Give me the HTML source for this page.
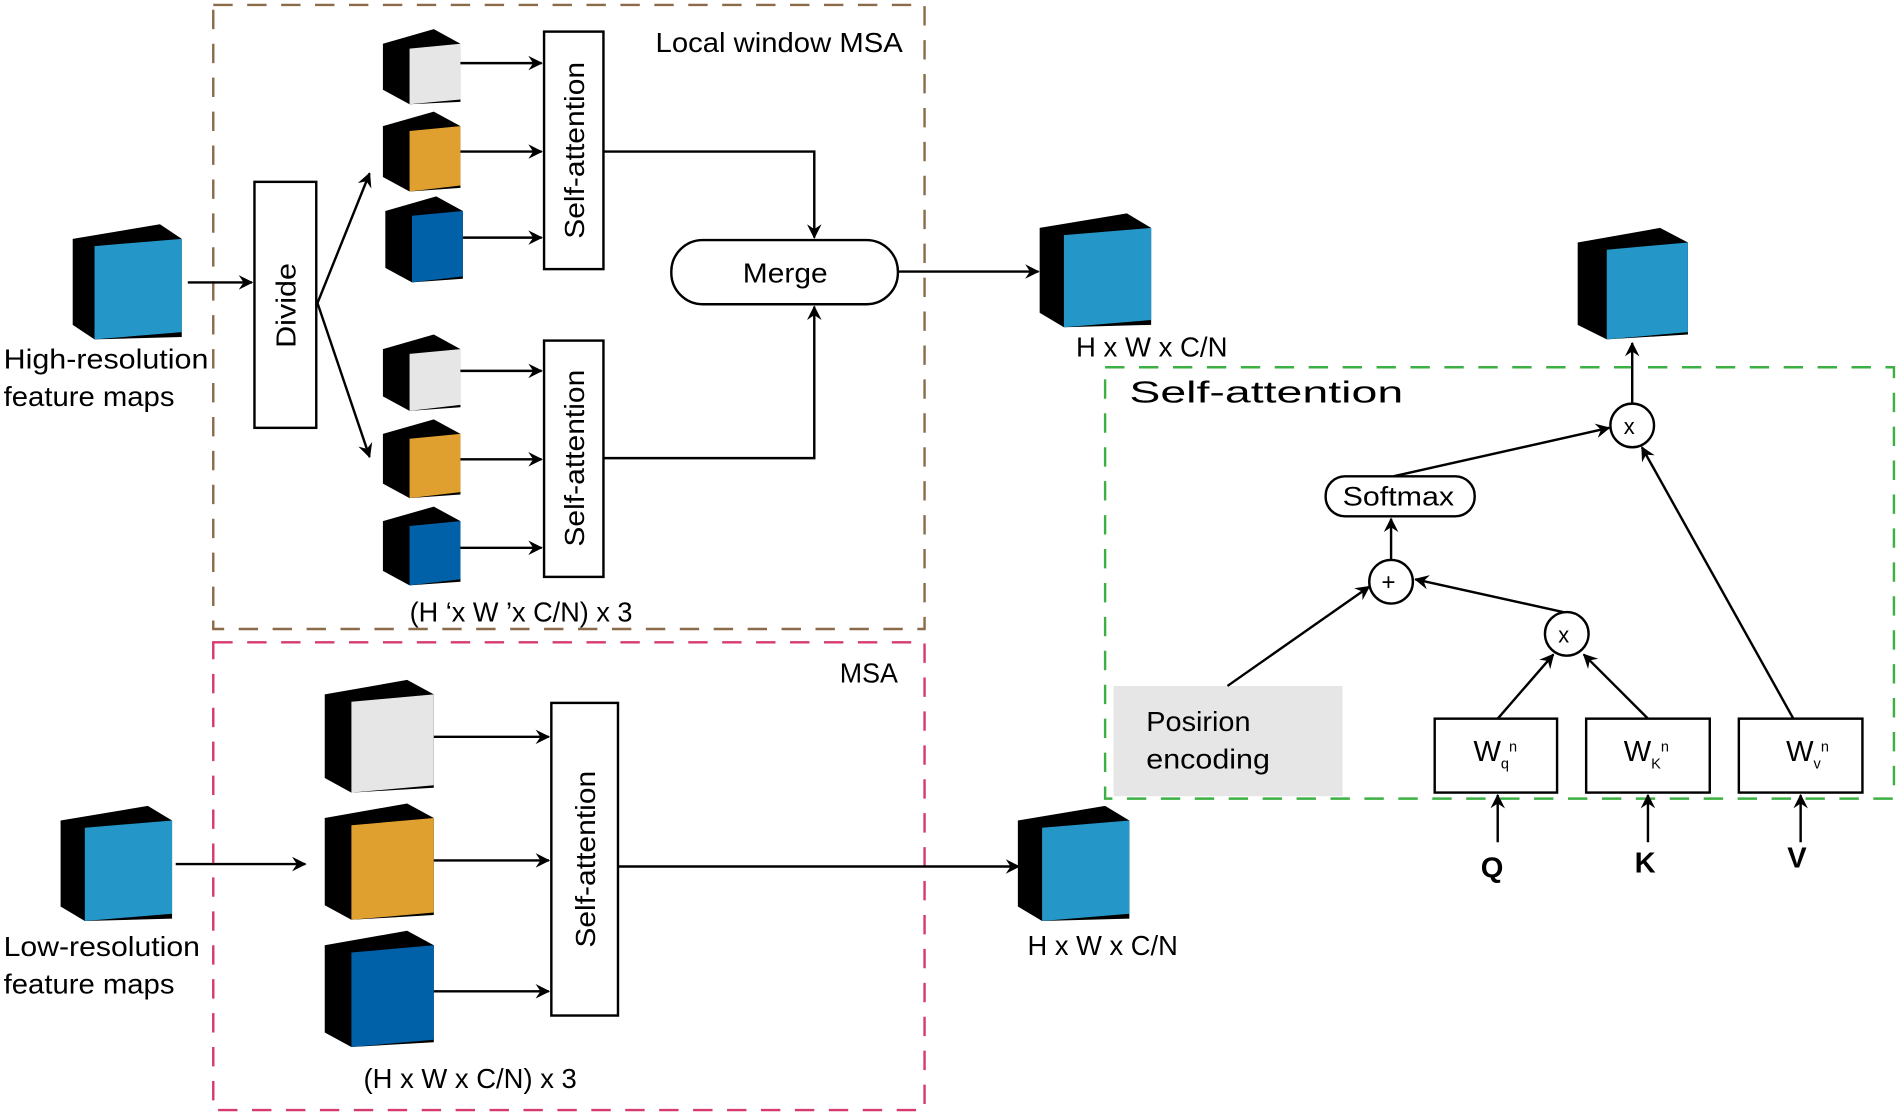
<!DOCTYPE html>
<html><head><meta charset="utf-8"><style>html,body{margin:0;padding:0;background:#fff}svg{display:block}</style></head>
<body>
<svg width="1900" height="1115" viewBox="0 0 1568 920" xmlns="http://www.w3.org/2000/svg" font-family="Liberation Sans, sans-serif">
<defs>
<marker id="ah" viewBox="0 0 12 12" refX="11" refY="6" markerWidth="12" markerHeight="12" markerUnits="userSpaceOnUse" orient="auto">
<path d="M0,0 L12,6 L0,12 L4,6 z" fill="#000"/></marker>
</defs>
<g fill="none" stroke-width="2" stroke-dasharray="16,12">
<rect x="176" y="4" width="587" height="515" stroke="#8b6b4a"/>
<rect x="176" y="530" width="587" height="386" stroke="#d63a6e"/>
<rect x="912" y="303" width="651" height="356" stroke="#3cb043"/>
</g>
<g>
<polygon points="60,197 132,185 150,197 150,278 78,280 60,268" fill="#000"/>
<polygon points="78,203 150,197 150,274 78,280" fill="#2596c8"/>
<polygon points="50,677 122,665 142,677 142,758 70,760 50,748" fill="#000"/>
<polygon points="70,683 142,677 142,754 70,760" fill="#2596c8"/>
<polygon points="858,188 930,176 950,188 950,268 878,270 858,258" fill="#000"/>
<polygon points="878,194 950,188 950,264 878,270" fill="#2596c8"/>
<polygon points="840,677 912,665 932,677 932,758 860,760 840,748" fill="#000"/>
<polygon points="860,683 932,677 932,754 860,760" fill="#2596c8"/>
<polygon points="1302,200 1370,188 1393,200 1393,276 1326,280 1302,268" fill="#000"/>
<polygon points="1326,206 1393,200 1393,274 1326,280" fill="#2596c8"/>
<polygon points="316,36 358,24 380,36 380,84 338,86 316,74" fill="#000"/>
<polygon points="338,40 380,36 380,82 338,86" fill="#e6e6e6"/>
<polygon points="316,104 358,92 380,104 380,155 338,158 316,146" fill="#000"/>
<polygon points="338,108 380,104 380,153 338,158" fill="#e0a030"/>
<polygon points="318,174 360,162 382,174 382,230 340,233 318,221" fill="#000"/>
<polygon points="340,178 382,174 382,228 340,233" fill="#0060a8"/>
<polygon points="316,288 358,276 380,288 380,336 338,339 316,327" fill="#000"/>
<polygon points="338,292 380,288 380,334 338,339" fill="#e6e6e6"/>
<polygon points="316,358 358,346 380,358 380,408 338,411 316,399" fill="#000"/>
<polygon points="338,362 380,358 380,406 338,411" fill="#e0a030"/>
<polygon points="316,430 358,418 380,430 380,480 338,483 316,471" fill="#000"/>
<polygon points="338,434 380,430 380,478 338,483" fill="#0060a8"/>
<polygon points="268,573 336,561 358,573 358,650 290,654 268,642" fill="#000"/>
<polygon points="290,579 358,573 358,648 290,654" fill="#e6e6e6"/>
<polygon points="268,675 336,663 358,675 358,755 290,759 268,747" fill="#000"/>
<polygon points="290,681 358,675 358,753 290,759" fill="#e0a030"/>
<polygon points="268,780 336,768 358,780 358,860 290,864 268,852" fill="#000"/>
<polygon points="290,786 358,780 358,858 290,864" fill="#0060a8"/>
</g>
<g fill="#fff" stroke="#000" stroke-width="2">
<rect x="210" y="150" width="51" height="203"/>
<rect x="449" y="26" width="49" height="196"/>
<rect x="449" y="281" width="49" height="195"/>
<rect x="455" y="580" width="55" height="258"/>
<rect x="554" y="198" width="187" height="53" rx="26"/>
<rect x="1094" y="393" width="123" height="33" rx="16"/>
<circle cx="1347" cy="351" r="18"/>
<circle cx="1148" cy="480" r="18"/>
<circle cx="1293" cy="523" r="18"/>
<rect x="1184" y="593" width="101" height="61"/>
<rect x="1309" y="593" width="102" height="61"/>
<rect x="1435" y="593" width="102" height="61"/>
</g>
<rect x="919" y="566" width="189" height="91" fill="#e6e6e6"/>
<g stroke="#000" stroke-width="2" fill="none" marker-end="url(#ah)">
<path d="M155,233 H208"/>
<path d="M262,250 L305,143"/>
<path d="M262,250 L305,377"/>
<path d="M380,52 H447"/><path d="M380,125 H447"/><path d="M382,196 H447"/>
<path d="M380,306 H447"/><path d="M380,379 H447"/><path d="M380,452 H447"/>
<path d="M498,125 H672 V196"/>
<path d="M498,378 H672 V253"/>
<path d="M741,224 H857"/>
<path d="M145,713 H252"/>
<path d="M358,608 H453"/><path d="M358,710 H453"/><path d="M358,818 H453"/>
<path d="M510,715 H841"/>
<path d="M1236,695 V656"/><path d="M1360,695 V656"/><path d="M1486,695 V656"/>
<path d="M1236,593 L1282,540"/>
<path d="M1360,593 L1307,540"/>
<path d="M1290,505 L1168,478"/>
<path d="M1013,566 L1130,484"/>
<path d="M1148,462 L1148,428"/>
<path d="M1150,393 L1328,353"/>
<path d="M1480,593 L1355,369"/>
<path d="M1347,333 L1347,283"/>
</g>
<g font-size="23" fill="#000" lengthAdjust="spacingAndGlyphs">
<text x="541" y="43" textLength="204" lengthAdjust="spacingAndGlyphs">Local window MSA</text>
<text x="3" y="304" textLength="169" lengthAdjust="spacingAndGlyphs">High-resolution</text>
<text x="3" y="335" textLength="141" lengthAdjust="spacingAndGlyphs">feature maps</text>
<text x="338" y="513" textLength="184" lengthAdjust="spacingAndGlyphs">(H ‘x W ’x C/N) x 3</text>
<text x="693" y="563" textLength="48" lengthAdjust="spacingAndGlyphs">MSA</text>
<text x="3" y="789" textLength="162" lengthAdjust="spacingAndGlyphs">Low-resolution</text>
<text x="3" y="820" textLength="141" lengthAdjust="spacingAndGlyphs">feature maps</text>
<text x="300" y="898" textLength="176" lengthAdjust="spacingAndGlyphs">(H x W x C/N) x 3</text>
<text x="888" y="294" textLength="125" lengthAdjust="spacingAndGlyphs">H x W x C/N</text>
<text x="848" y="788" textLength="124" lengthAdjust="spacingAndGlyphs">H x W x C/N</text>
<text x="613" y="233" textLength="70" lengthAdjust="spacingAndGlyphs">Merge</text>
<text x="1108" y="417" font-size="22" textLength="92" lengthAdjust="spacingAndGlyphs">Softmax</text>
<text x="946" y="603" textLength="86" lengthAdjust="spacingAndGlyphs">Posirion</text>
<text x="946" y="634" textLength="102" lengthAdjust="spacingAndGlyphs">encoding</text>
<text x="1340" y="358" font-size="18">x</text>
<text x="1140" y="487" font-size="20">+</text>
<text x="1286" y="530" font-size="18">x</text>
<text x="1216" y="628" font-size="24">W<tspan font-size="12" dy="6">q</tspan><tspan font-size="12" dy="-14">n</tspan></text>
<text x="1340" y="628" font-size="24">W<tspan font-size="12" dy="6">K</tspan><tspan font-size="12" dy="-14">n</tspan></text>
<text x="1474" y="628" font-size="24">W<tspan font-size="12" dy="6">v</tspan><tspan font-size="12" dy="-14">n</tspan></text>
<text x="1222" y="724" font-size="24" font-weight="bold">Q</text>
<text x="1349" y="720" font-size="24" font-weight="bold">K</text>
<text x="1475" y="716" font-size="24" font-weight="bold">V</text>
<text x="932" y="332" font-size="25" textLength="226" lengthAdjust="spacingAndGlyphs">Self-attention</text>
<text transform="translate(244,252) rotate(-90)" text-anchor="middle" textLength="70" lengthAdjust="spacingAndGlyphs">Divide</text>
<text transform="translate(482,124) rotate(-90)" text-anchor="middle" textLength="146" lengthAdjust="spacingAndGlyphs">Self-attention</text>
<text transform="translate(482,378) rotate(-90)" text-anchor="middle" textLength="146" lengthAdjust="spacingAndGlyphs">Self-attention</text>
<text transform="translate(491,709) rotate(-90)" text-anchor="middle" textLength="146" lengthAdjust="spacingAndGlyphs">Self-attention</text>
</g>
</svg>
</body></html>
